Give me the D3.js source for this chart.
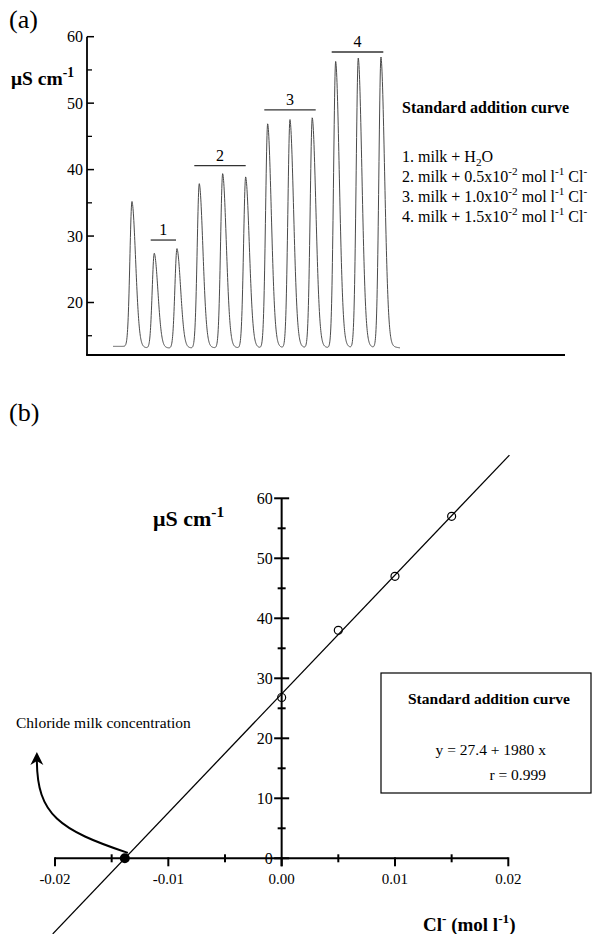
<!DOCTYPE html>
<html><head><meta charset="utf-8">
<script src="https://cdn.jsdelivr.net/npm/d3@7"></script>
<style>
body{margin:0;background:#fff}
svg{display:block}
text{font-family:"Liberation Serif","Times New Roman",serif;fill:#000;white-space:pre}
</style>
</head><body><svg id="c" width="593" height="934"></svg>
<script>
// ---------- Panel (a) data: flow-injection conductivity peaks ----------
const peakTimes   = [22.5, 33.65, 45, 56.15, 67.85, 79.35, 90.35, 101.5, 112.65, 124.35, 135.65, 147];
const peakHeights = [35.2, 27.4, 28.1, 37.9, 39.4, 38.9, 46.9, 47.5, 47.8, 56.3, 56.8, 56.9];
const baselineStartLevel = 13.4;
const baselineLevel = 13.1;
const traceStart = 13, traceEnd = 156.5;
const groupNames = ["1", "2", "3", "4"];
const groupStart = [31.85, 53.65, 88.65, 122.35];
const groupEnd   = [44.5, 79.35, 114.35, 148.15];
const groupLevel = [29.4, 40.6, 49.0, 57.7];
const topYTicks = [20, 30, 40, 50, 60];
const topYMinor = [15, 25, 35, 45, 55];
const legendTitleA = "Standard addition curve";
const legendItems = [
  [["1. milk + H"], ["2", "sub"], ["O"]],
  [["2. milk + 0.5x10"], ["-2", "sup"], [" mol l"], ["-1", "sup"], [" Cl"], ["-", "sup"]],
  [["3. milk + 1.0x10"], ["-2", "sup"], [" mol l"], ["-1", "sup"], [" Cl"], ["-", "sup"]],
  [["4. milk + 1.5x10"], ["-2", "sup"], [" mol l"], ["-1", "sup"], [" Cl"], ["-", "sup"]]
];

// ---------- Panel (b) data: standard addition regression ----------
const conc = [0, 0.005, 0.010, 0.015];
const cond = [26.8, 38.0, 47.0, 57.0];
const fitIntercept = 27.4, fitSlope = 1980;
const fitFrom = -0.0202, fitTo = 0.0201;
const xTicks = [-0.02, -0.01, 0, 0.01, 0.02];
const xTickLabels = ["-0.02", "-0.01", "0.00", "0.01", "0.02"];
const xMinor = [-0.015, -0.005, 0.005, 0.015];
const yTicks = [0, 10, 20, 30, 40, 50, 60];
const yTickLabels = ["0", "10", "20", "30", "40", "50", "60"];
const yMinor = [5, 15, 25, 35, 45, 55];
const arrowPts = [[-0.01357, 0.9], [-0.01957, 4.7], [-0.0216, 7.2], [-0.0216, 16.4]];
const arrowTip = [-0.0216, 17.7];
const boxTitle = "Standard addition curve";
const eqText = "y = 27.4 + 1980 x";
const rText = "r = 0.999";
const annotText = "Chloride milk concentration";

const svg = d3.select("#c");

function richText(sel, tokens, size) {
  let shift = 0;
  tokens.forEach(([t, kind]) => {
    const ts = sel.append("tspan").text(t);
    let target = 0;
    if (kind === "sup") target = -0.42 * size;
    if (kind === "sub") target = 0.25 * size;
    ts.attr("dy", target - shift);
    shift = target;
    if (kind) ts.attr("font-size", size * 0.7);
  });
}

// ================= Panel (a) =================
const xA = d3.scaleLinear().domain([0, 239]).range([87, 565]);
const yA = d3.scaleLinear().domain([12.1, 60]).range([355, 36.7]);

function shape(dt) {
  if (dt < 0) return Math.exp(-0.5 * (dt / 1.06) ** 2);
  return 0.92 * Math.exp(-0.5 * (dt / 1.83) ** 2) + 0.08 * Math.exp(-dt / 2.5);
}
const trace = [];
for (let t = traceStart; t <= traceEnd + 1e-9; t += 0.1) {
  const base = t < peakTimes[0] ? baselineStartLevel : baselineLevel;
  let v = base;
  peakTimes.forEach((p, i) => { v += (peakHeights[i] - base) * shape(t - p); });
  trace.push([t, v]);
}

const gA = svg.append("g");
gA.append("path")
  .attr("d", d3.line().x(d => xA(d[0])).y(d => yA(d[1]))(trace))
  .attr("fill", "none").attr("stroke", "#4a4a4a").attr("stroke-width", 1);

// axes
gA.append("line").attr("x1", xA(0)).attr("x2", xA(0)).attr("y1", yA(60)).attr("y2", yA(12.1))
  .attr("stroke", "#000").attr("stroke-width", 1.8);
gA.append("line").attr("x1", xA(0) - 0.9).attr("x2", xA(239)).attr("y1", yA(12.1)).attr("y2", yA(12.1))
  .attr("stroke", "#000").attr("stroke-width", 1.8);
topYTicks.forEach(v => {
  gA.append("line").attr("x1", xA(0)).attr("x2", xA(0) + 7).attr("y1", yA(v)).attr("y2", yA(v))
    .attr("stroke", "#000").attr("stroke-width", 1.5);
  gA.append("text").attr("x", xA(0) - 4).attr("y", yA(v)).attr("dy", "0.35em")
    .attr("text-anchor", "end").attr("font-size", 16).text(v);
});
topYMinor.forEach(v => {
  gA.append("line").attr("x1", xA(0)).attr("x2", xA(0) + 5).attr("y1", yA(v)).attr("y2", yA(v))
    .attr("stroke", "#000").attr("stroke-width", 1.3);
});

// group bars
groupNames.forEach((n, i) => {
  gA.append("line").attr("x1", xA(groupStart[i])).attr("x2", xA(groupEnd[i]))
    .attr("y1", yA(groupLevel[i])).attr("y2", yA(groupLevel[i]))
    .attr("stroke", "#333").attr("stroke-width", 1.3);
  gA.append("text").attr("x", xA((groupStart[i] + groupEnd[i]) / 2)).attr("y", yA(groupLevel[i]) - 5)
    .attr("text-anchor", "middle").attr("font-size", 16).text(n);
});

gA.append("text").attr("x", 9).attr("y", 28).attr("font-size", 26).text("(a)");
richText(gA.append("text").attr("x", 11).attr("y", 85).attr("font-size", 19.5).attr("font-weight", "bold"),
  [["μS cm"], ["-1", "sup"]], 19.5);

gA.append("text").attr("x", 402).attr("y", 113).attr("font-size", 16).attr("font-weight", "bold").text(legendTitleA);
legendItems.forEach((tok, i) => {
  richText(gA.append("text").attr("x", 402).attr("y", 161.7 + i * 20).attr("font-size", 16), tok, 16);
});

// ================= Panel (b) =================
const xB = d3.scaleLinear().domain([-0.02, 0.02]).range([55, 508.3]);
const yB = d3.scaleLinear().domain([0, 60]).range([858.3, 498.3]);
const gB = svg.append("g");

gB.append("text").attr("x", 9).attr("y", 421).attr("font-size", 26).text("(b)");

// regression line
gB.append("line")
  .attr("x1", xB(fitFrom)).attr("y1", yB(fitIntercept + fitSlope * fitFrom))
  .attr("x2", xB(fitTo)).attr("y2", yB(fitIntercept + fitSlope * fitTo))
  .attr("stroke", "#000").attr("stroke-width", 1.3);

// axes
gB.append("line").attr("x1", xB(0)).attr("x2", xB(0)).attr("y1", yB(60)).attr("y2", yB(0) + 8)
  .attr("stroke", "#000").attr("stroke-width", 2);
gB.append("line").attr("x1", xB(-0.02)).attr("x2", xB(0.02)).attr("y1", yB(0)).attr("y2", yB(0))
  .attr("stroke", "#000").attr("stroke-width", 2);
yTicks.forEach((v, i) => {
  gB.append("line").attr("x1", xB(0) - 7.5).attr("x2", xB(0) + 7.5).attr("y1", yB(v)).attr("y2", yB(v))
    .attr("stroke", "#000").attr("stroke-width", 2);
  gB.append("text").attr("x", xB(0) - 9).attr("y", yB(v)).attr("dy", "0.35em")
    .attr("text-anchor", "end").attr("font-size", 16).text(yTickLabels[i]);
});
yMinor.forEach(v => {
  gB.append("line").attr("x1", xB(0) - 4).attr("x2", xB(0) + 4).attr("y1", yB(v)).attr("y2", yB(v))
    .attr("stroke", "#000").attr("stroke-width", 2);
});
xTicks.forEach((v, i) => {
  gB.append("line").attr("x1", xB(v)).attr("x2", xB(v)).attr("y1", yB(0) - 1).attr("y2", yB(0) + 8)
    .attr("stroke", "#000").attr("stroke-width", 2);
  gB.append("text").attr("x", xB(v)).attr("y", 884)
    .attr("text-anchor", "middle").attr("font-size", 15).text(xTickLabels[i]);
});
xMinor.forEach(v => {
  gB.append("line").attr("x1", xB(v)).attr("x2", xB(v)).attr("y1", yB(0) - 4).attr("y2", yB(0) + 4)
    .attr("stroke", "#000").attr("stroke-width", 2);
});

// data points
gB.selectAll("circle.pt").data(conc).enter().append("circle").attr("class", "pt")
  .attr("cx", d => xB(d)).attr("cy", (d, i) => yB(cond[i])).attr("r", 4)
  .attr("fill", "none").attr("stroke", "#000").attr("stroke-width", 1.2);

// x-intercept (chloride concentration)
const xInt = -fitIntercept / fitSlope;
gB.append("circle").attr("cx", xB(xInt)).attr("cy", yB(0)).attr("r", 5).attr("fill", "#000");

// arrow
const ap = arrowPts.map(p => [xB(p[0]), yB(p[1])]);
gB.append("path")
  .attr("d", `M${ap[0][0]},${ap[0][1]} C${ap[1][0]},${ap[1][1]} ${ap[2][0]},${ap[2][1]} ${ap[3][0]},${ap[3][1]}`)
  .attr("fill", "none").attr("stroke", "#000").attr("stroke-width", 2);
const tx = xB(arrowTip[0]), ty = yB(arrowTip[1]);
gB.append("path").attr("d", `M${tx},${ty} L${tx - 6.5},${ty + 13} L${tx},${ty + 9} L${tx + 6.5},${ty + 13} Z`)
  .attr("fill", "#000");
gB.append("text").attr("x", 16).attr("y", 728).attr("font-size", 15.5).text(annotText);

// axis labels
richText(gB.append("text").attr("x", 153).attr("y", 526).attr("font-size", 22).attr("font-weight", "bold"),
  [["μS cm"], ["-1", "sup"]], 22);
richText(gB.append("text").attr("x", 423).attr("y", 931).attr("font-size", 19).attr("font-weight", "bold"),
  [["Cl"], ["-", "sup"], [" (mol l"], ["-1", "sup"], [")"]], 19);

// box
gB.append("rect").attr("x", 381).attr("y", 673).attr("width", 210).attr("height", 120)
  .attr("fill", "none").attr("stroke", "#000").attr("stroke-width", 1.2);
gB.append("text").attr("x", 408).attr("y", 704).attr("font-size", 15.5).attr("font-weight", "bold").text(boxTitle);
gB.append("text").attr("x", 546).attr("y", 755).attr("text-anchor", "end").attr("font-size", 15.5).text(eqText);
gB.append("text").attr("x", 546).attr("y", 779.5).attr("text-anchor", "end").attr("font-size", 15.5).text(rText);
</script>
</body></html>
